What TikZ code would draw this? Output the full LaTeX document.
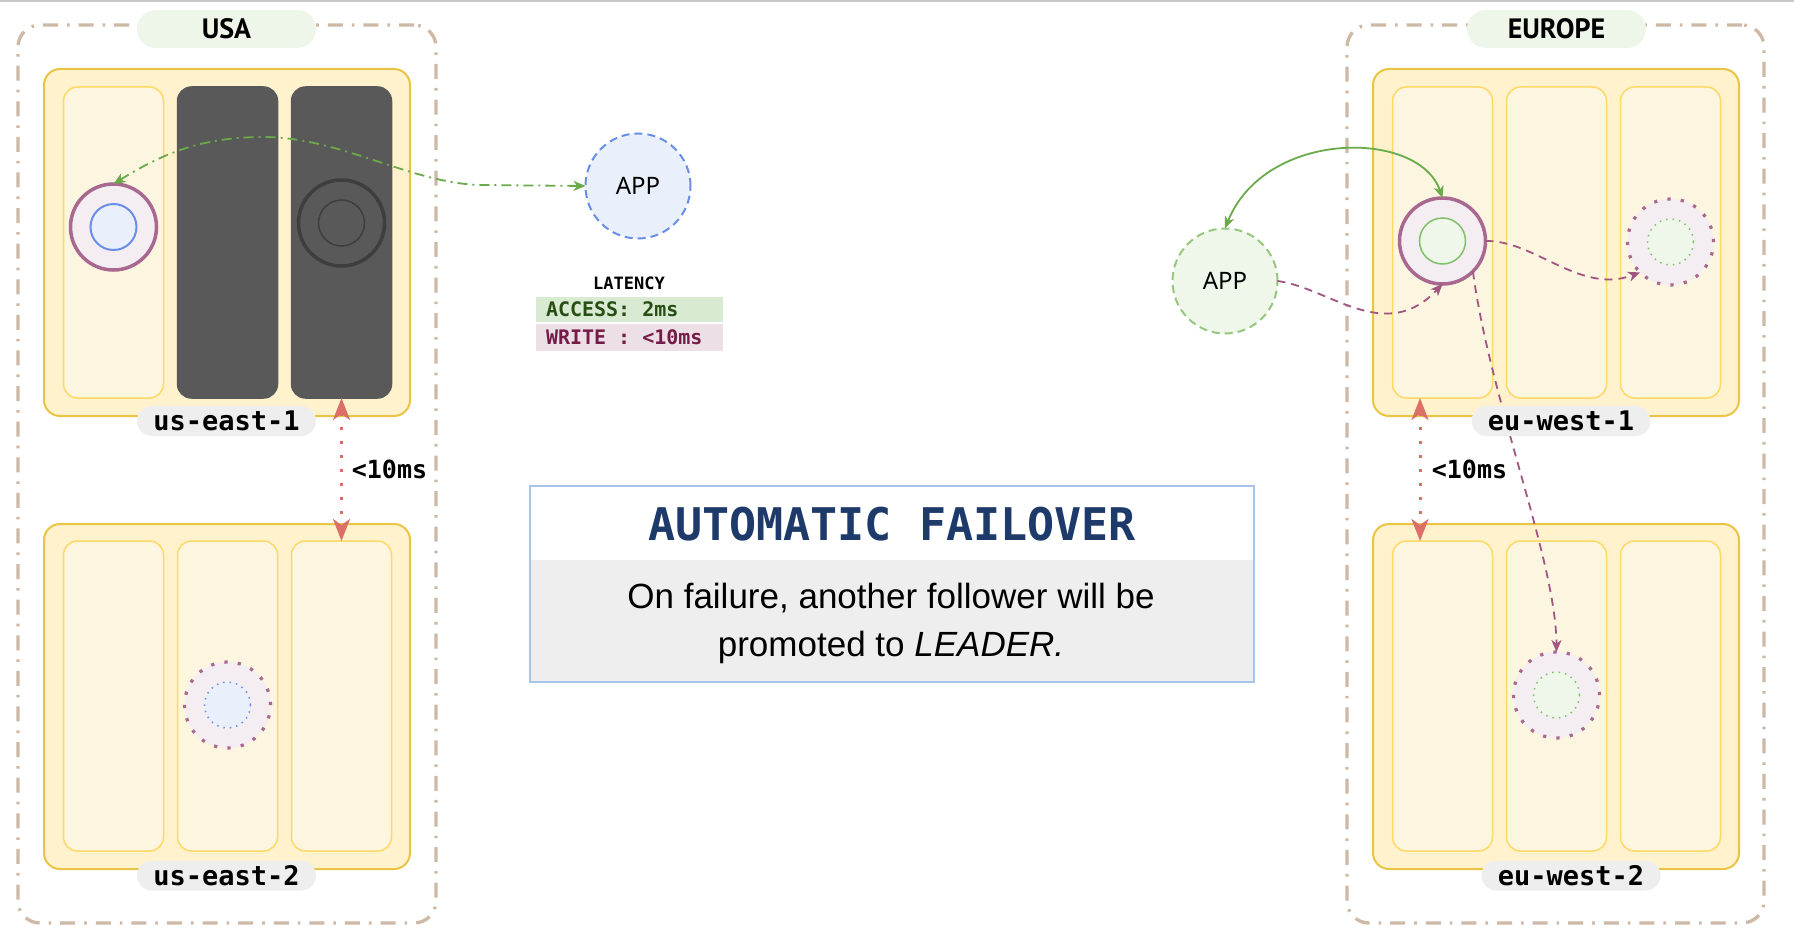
\documentclass[tikz,border=0pt]{standalone}
\usepackage{fontspec}
\setmainfont{Liberation Sans}
\newfontfamily\monof{DejaVu Sans Mono}
\newfontfamily\headf{PT Sans}
\newfontfamily\appf{Noto Sans}
\usetikzlibrary{arrows.meta}
\definecolor{tanC}{HTML}{CDB9A5}
\definecolor{pillGreen}{HTML}{EEF6EA}
\definecolor{pillGray}{HTML}{EEEEEE}
\definecolor{zoneB}{HTML}{E9C445}
\definecolor{zoneF}{HTML}{FFF2CC}
\definecolor{colB}{HTML}{FFD966}
\definecolor{colF}{HTML}{FCF5DF}
\definecolor{darkC}{HTML}{595959}
\definecolor{deadB}{HTML}{3E3E3E}
\definecolor{leadB}{HTML}{A8688F}
\definecolor{leadF}{HTML}{F4EEF2}
\definecolor{blueB}{HTML}{6A8EE8}
\definecolor{blueF}{HTML}{E9F0FC}
\definecolor{greenB}{HTML}{82BF6A}
\definecolor{greenF}{HTML}{EEF7EA}
\definecolor{appGreenB}{HTML}{97C77E}
\definecolor{greenA}{HTML}{6AAA4A}
\definecolor{purA}{HTML}{A05582}
\definecolor{redA}{HTML}{DB7066}
\definecolor{accF}{HTML}{D9EAD3}
\definecolor{accT}{HTML}{274E13}
\definecolor{wrF}{HTML}{EDDFE6}
\definecolor{wrT}{HTML}{741B47}
\definecolor{foB}{HTML}{A9C4EB}
\definecolor{foG}{HTML}{EEEEEE}
\definecolor{navy}{HTML}{1D3A6A}
\definecolor{topL}{HTML}{C8C8C8}
\begin{document}
\begin{tikzpicture}[x=1pt,y=-1pt,
  every node/.style={inner sep=0pt,outer sep=0pt},
  region/.style={draw=tanC,line width=3.3pt,rounded corners=22pt,dash pattern=on 15pt off 9pt on 2.6pt off 9pt},
  namepill/.style={fill=pillGreen,rounded corners=19pt,minimum width=179pt,minimum height=38pt,font={\headf\bfseries\fontsize{28}{30}\selectfont}},
  zone/.style={draw=zoneB,fill=zoneF,line width=2pt,rounded corners=16pt,minimum width=366pt},
  col/.style={draw=colB,fill=colF,line width=1.5pt,rounded corners=14pt,minimum width=100pt},
  deadcol/.style={col,draw=darkC,fill=darkC},
  lbl/.style={fill=pillGray,rounded corners=15pt,minimum width=179pt,minimum height=30pt,font={\monof\bfseries\fontsize{27}{30}\selectfont}},
  leader/.style={circle,draw=leadB,fill=leadF,line width=3.5pt,minimum size=86pt},
  follower/.style={circle,draw=leadB,fill=leadF,line width=3.2pt,dash pattern=on 3.2pt off 10.3pt,minimum size=86pt},
  inB/.style={circle,draw=blueB,fill=blueF,line width=2pt,minimum size=46pt},
  inBd/.style={circle,draw=blueB,fill=blueF,line width=1.5pt,dash pattern=on 1.5pt off 5pt,minimum size=46pt},
  inG/.style={circle,draw=greenB,fill=greenF,line width=1.5pt,minimum size=46pt},
  inGd/.style={circle,draw=greenB,fill=greenF,line width=1.5pt,dash pattern=on 1.5pt off 5pt,minimum size=46pt},
  dead/.style={circle,draw=deadB,line width=3.5pt,minimum size=86pt},
  deadin/.style={circle,draw=deadB,line width=1.5pt,minimum size=46pt},
  appB/.style={circle,draw=blueB,fill=blueF,line width=2pt,dash pattern=on 8pt off 5pt,minimum size=105pt,font={\appf\fontsize{24}{28}\selectfont}},
  appG/.style={circle,draw=appGreenB,fill=greenF,line width=2pt,dash pattern=on 8pt off 5pt,minimum size=105pt,font={\appf\fontsize{24}{28}\selectfont}},
  ms/.style={font={\monof\bfseries\fontsize{25}{28}\selectfont}},
  rarr/.style={draw=redA,line width=3pt,dash pattern=on 3pt off 11pt,{Stealth[length=22pt,width=17pt,inset=6pt]}-{Stealth[length=22pt,width=17pt,inset=6pt]}},
  parr/.style={draw=purA,line width=1.8pt,dash pattern=on 8pt off 6pt,-{Stealth[length=12pt,width=10pt,inset=3.5pt]}},
  garr/.style={draw=greenA,line width=1.8pt,{Stealth[length=12pt,width=10pt,inset=3.5pt]}-{Stealth[length=12pt,width=10pt,inset=3.5pt]}},
  gdarr/.style={garr,dash pattern=on 10pt off 5pt on 2pt off 5pt},
  lat/.style={font={\monof\bfseries\fontsize{20}{22}\selectfont}}
]
\useasboundingbox (0,0) rectangle (1794,939);
\fill[white] (0,0) rectangle (1794,939);
\draw[topL,line width=1.5pt] (0,1) -- (1794,1);

% containers
\node[region,minimum width=418pt,minimum height=898pt] (usa) at (227,474) {};
\node[region,minimum width=417pt,minimum height=898pt] (eur) at (1555.5,474) {};
\node[namepill] (usaL) at (226.5,29) {USA};
\node[namepill] (eurL) at (1556.5,29) {EUROPE};

% US zones
\node[zone,minimum height=347pt] (ue1) at (227,242.5) {};
\node[col,minimum height=311pt] (ue1a) at (113.5,242.5) {};
\node[deadcol,minimum height=311pt] (ue1b) at (227.5,242.5) {};
\node[deadcol,minimum height=311pt] (ue1c) at (341.5,242.5) {};
\node[zone,minimum height=345pt] (ue2) at (227,696.5) {};
\node[col,minimum height=310pt] (ue2a) at (113.5,696) {};
\node[col,minimum height=310pt] (ue2b) at (227.5,696) {};
\node[col,minimum height=310pt] (ue2c) at (341.5,696) {};

% EU zones
\node[zone,minimum height=347pt] (ew1) at (1556,242.5) {};
\node[col,minimum height=311pt] (ew1a) at (1442.5,242.5) {};
\node[col,minimum height=311pt] (ew1b) at (1556.5,242.5) {};
\node[col,minimum height=311pt] (ew1c) at (1670.5,242.5) {};
\node[zone,minimum height=345pt] (ew2) at (1556,696.5) {};
\node[col,minimum height=310pt] (ew2a) at (1442.5,696) {};
\node[col,minimum height=310pt] (ew2b) at (1556.5,696) {};
\node[col,minimum height=310pt] (ew2c) at (1670.5,696) {};

% databases
\node[leader] (usLead) at (113.5,227) {};
\node[inB] (usLeadIn) at (113.5,227) {};
\node[dead] (usDead) at (341.5,223) {};
\node[deadin] (usDeadIn) at (341.5,223) {};
\node[follower] (usFol) at (227.5,705) {};
\node[inBd] (usFolIn) at (227.5,705) {};
\node[leader] (euLead) at (1442.5,241) {};
\node[inG] (euLeadIn) at (1442.5,241) {};
\node[follower] (euFol1) at (1670.5,242) {};
\node[inGd] (euFol1In) at (1670.5,242) {};
\node[follower] (euFol2) at (1556.5,695) {};
\node[inGd] (euFol2In) at (1556.5,695) {};

% apps
\node[appB] (usApp) at (638,186) {APP};
\node[appG] (euApp) at (1225,281) {APP};

% latency
\node[font={\monof\bfseries\fontsize{17}{19}\selectfont}] (latT) at (629,283) {LATENCY};
\node[fill=accF,minimum width=187pt,minimum height=25pt] (accB) at (629.5,309.5) {};
\node[fill=wrF,minimum width=187pt,minimum height=27pt] (wrB) at (629.5,337.5) {};
\node[lat,text=accT,anchor=west] (accTx) at (546,309.5) {ACCESS: 2ms};
\node[lat,text=wrT,anchor=west] (wrTx) at (546,337.5) {WRITE : <10ms};

% failover box
\node[fill=white,minimum width=724pt,minimum height=73.5pt] (foH) at (892,522.75) {};
\node[fill=foG,minimum width=724pt,minimum height=122.5pt] (foBd) at (892,620.75) {};
\draw[foB,line width=2pt] (foH.north west) rectangle (foBd.south east);
\node[anchor=base,text=navy,font={\monof\bfseries\fontsize{45}{50}\selectfont}] (foTitle) at (892,540) {AUTOMATIC FAILOVER};
\node[anchor=base,font={\fontsize{35}{40}\selectfont}] (foL1) at (891,608) {On failure, another follower will be};
\node[anchor=base,font={\fontsize{35}{40}\selectfont}] (foL2) at (891,656) {promoted to \textit{LEADER.}};

% connectors
\draw[gdarr] (usLead.north) .. controls (160,155) and (200,137) .. (263,137) .. controls (340,137) and (410,183) .. (480,185) -- (usApp.west);
\draw[garr] (euApp.north) .. controls (1265,129) and (1419,129) .. (euLead.north);
\draw[parr] (euApp.east) .. controls (1330,288) and (1385,345) .. (euLead.south);
\draw[parr] (euLead.east) .. controls (1535,240) and (1580,295) .. (euFol1.south west);
\draw[parr] (euLead.south east) .. controls (1490,400) and (1556,560) .. (euFol2.north);
\draw[rarr] (ue1c.south) -- (ue2c.north);
\draw[rarr] ([xshift=-22.5pt]ew1a.south) -- ([xshift=-22.5pt]ew2a.north);
\node[ms] (usMs) at (389.5,469) {<10ms};
\node[ms] (euMs) at (1469.5,469) {<10ms};

% zone labels
\node[lbl] (ue1L) at (226.5,421) {us-east-1};
\node[lbl] (ue2L) at (226.5,875.5) {us-east-2};
\node[lbl] (ew1L) at (1561,421) {eu-west-1};
\node[lbl] (ew2L) at (1571,875.5) {eu-west-2};
\end{tikzpicture}
\end{document}
